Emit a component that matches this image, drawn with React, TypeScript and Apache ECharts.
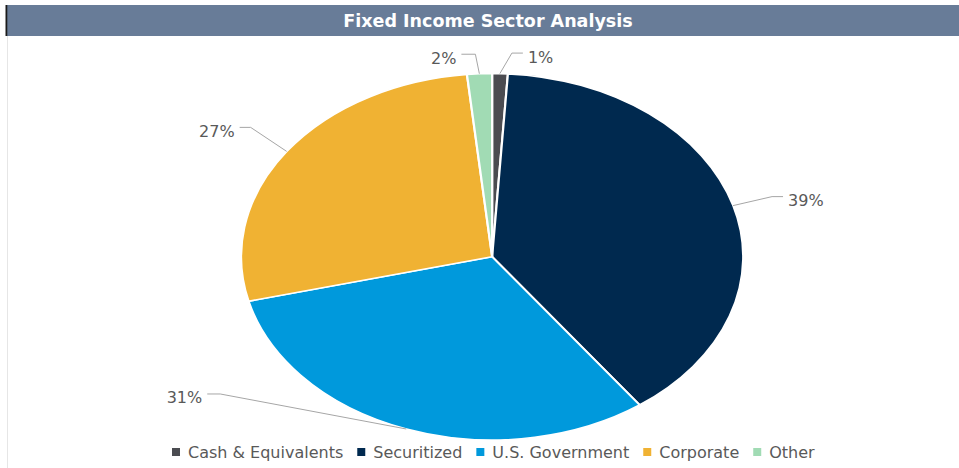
import React, { useEffect, useRef } from "react";
import * as echarts from "echarts";

// ---- data ----
const categories = ["Cash & Equivalents", "Securitized", "U.S. Government", "Corporate", "Other"];
const values = [1.0, 39.0, 31.1, 27.3, 1.6];
const sliceColors = ["#4B4C51", "#00294F", "#0099DC", "#F0B233", "#A1DBB4"];
const titleText = "Fixed Income Sector Analysis";

// ---- layout (not data) ----
const CX = 492;
const CY = 256.75;
const RX = 251;
const RY = 183.25;
// elbow offset from slice edge point, and horizontal leader length
const labelLayout = [
  { dx: 12, dy: -20.5, h: 11 },
  { dx: 39, dy: -9, h: 11 },
  { dx: -186, dy: -35, h: -13 },
  { dx: -36, dy: -24, h: -11 },
  { dx: -4, dy: -19.5, h: -14 },
];
const FONT = "'DejaVu Sans', 'Liberation Sans', Arial, sans-serif";

export default function App() {
  const ref = useRef<HTMLDivElement>(null);

  useEffect(() => {
    if (!ref.current) return;
    const chart = echarts.init(ref.current, null, { renderer: "svg" });
    const total = values.reduce((a, b) => a + b, 0);
    const starts = values.map((_, i) => values.slice(0, i).reduce((a, b) => a + b, 0));

    const series = categories.map((name, i) => ({
      type: "custom",
      name,
      coordinateSystem: "none",
      data: [values[i]],
      itemStyle: { color: sliceColors[i] },
      renderItem: (params: any, api: any) => {
        const v = api.value(0);
        const a0 = -Math.PI / 2 + (starts[i] / total) * 2 * Math.PI;
        const a1 = a0 + (v / total) * 2 * Math.PI;
        const am = (a0 + a1) / 2;
        const ex = CX + RX * Math.cos(am);
        const ey = CY + RY * Math.sin(am);
        const L = labelLayout[i];
        const bx = ex + L.dx;
        const by = ey + L.dy;
        const hx = bx + L.h;
        const right = L.h > 0;
        return {
          type: "group",
          children: [
            {
              type: "sector",
              shape: { cx: CX, cy: CY, r: RY, r0: 0, startAngle: a0, endAngle: a1, clockwise: true },
              originX: CX,
              originY: CY,
              scaleX: RX / RY,
              style: { fill: sliceColors[i], stroke: "#ffffff", lineWidth: 1.6, strokeNoScale: true },
            },
            {
              type: "polyline",
              shape: { points: [[ex, ey], [bx, by], [hx, by]] },
              style: { stroke: "#A6A6A6", lineWidth: 1, fill: null },
              silent: true,
            },
            {
              type: "text",
              x: hx + (right ? 5 : -5),
              y: by + 4,
              style: {
                text: `${Math.round(v)}%`,
                fill: "#595959",
                fontSize: 16,
                fontFamily: FONT,
                align: right ? "left" : "right",
                verticalAlign: "middle",
              },
            },
          ],
        };
      },
    }));

    chart.setOption({
      animation: false,
      color: sliceColors,
      graphic: [
        { type: "rect", shape: { x: 6, y: 5, width: 953, height: 31 }, style: { fill: "#687C98" } },
        { type: "rect", shape: { x: 5.5, y: 5, width: 1.8, height: 31 }, style: { fill: "#1A1A1A" } },
        { type: "rect", shape: { x: 7, y: 36, width: 1, height: 432 }, style: { fill: "#E6E6E6" } },
        {
          type: "text",
          x: 488,
          y: 20.5,
          style: {
            text: titleText,
            fill: "#ffffff",
            fontSize: 17.5,
            fontWeight: "bold",
            fontFamily: FONT,
            align: "center",
            verticalAlign: "middle",
          },
        },
      ],
      legend: {
        left: 167,
        top: 439,
        icon: "rect",
        itemWidth: 8,
        itemHeight: 8,
        itemGap: 14,
        selectedMode: false,
        data: categories,
        textStyle: { color: "#595959", fontSize: 16, fontFamily: FONT, padding: [0, 0, 0, 3] },
      },
      series,
    });

    return () => chart.dispose();
  }, []);

  return (
    <div
      ref={ref}
      style={{ position: "fixed", left: 0, top: 0, width: 959, height: 468, background: "#ffffff" }}
    />
  );
}
